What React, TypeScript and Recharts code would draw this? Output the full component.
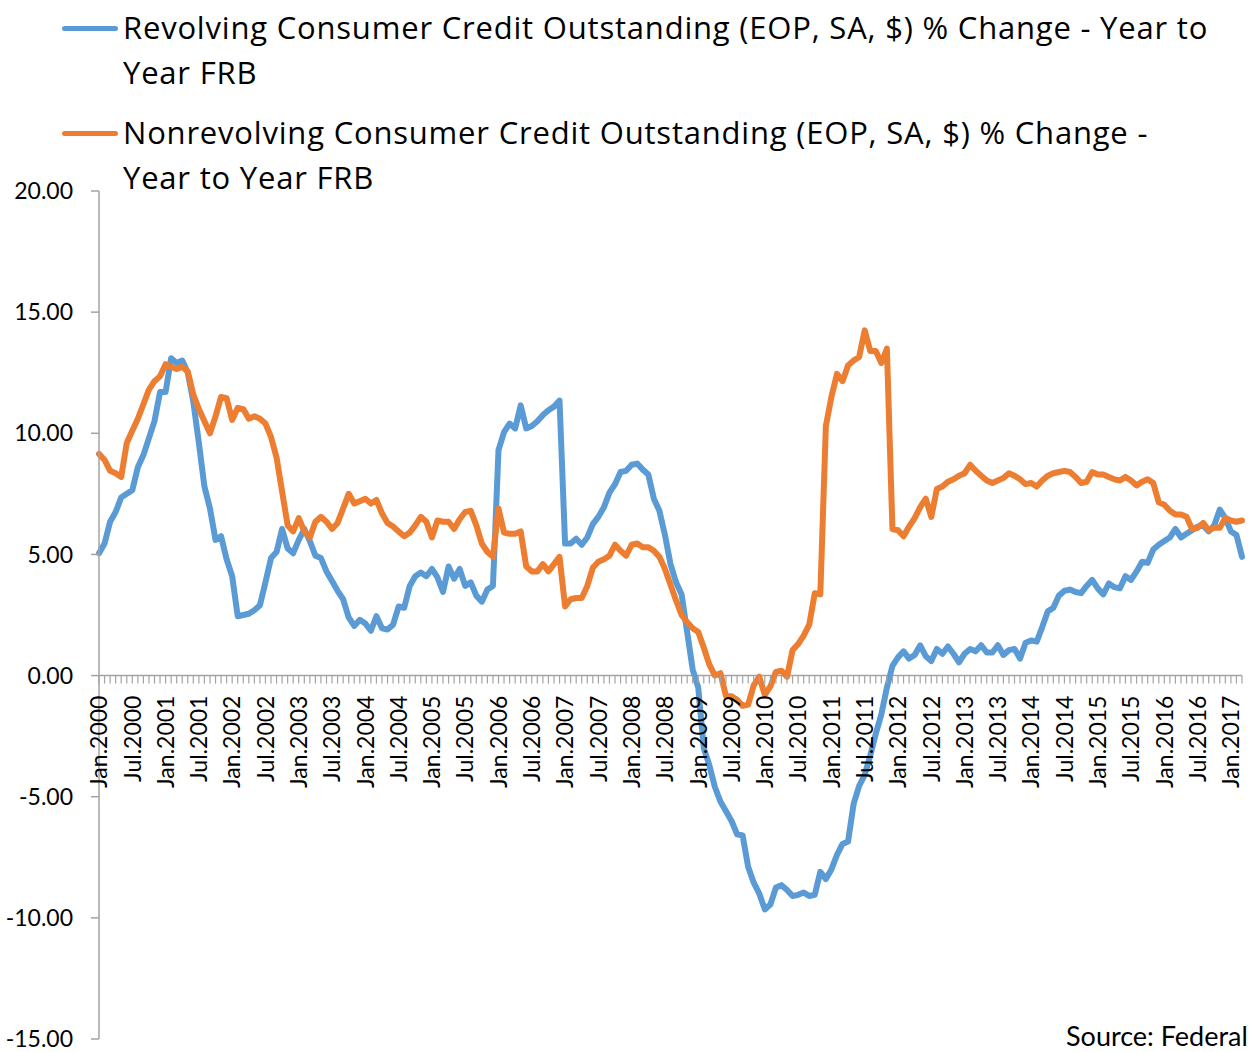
import React from 'react';
import { LineChart, Line, XAxis, YAxis, ReferenceLine, Legend } from 'recharts';

// ---------- data ----------
const MONTHS = ['Jan', 'Feb', 'Mar', 'Apr', 'May', 'Jun', 'Jul', 'Aug', 'Sep', 'Oct', 'Nov', 'Dec'];
const START_YEAR = 2000;

// Revolving consumer credit, % change year to year (Jan 2000 - Mar 2017)
const REVOLVING = [
  5.05, 5.45, 6.35, 6.75, 7.35, 7.5, 7.65, 8.6, 9.1, 9.8, 10.5, 11.7,
  11.7, 13.1, 12.9, 13.0, 12.5, 11.3, 9.6, 7.8, 6.9, 5.6, 5.75, 4.8,
  4.1, 2.45, 2.5, 2.55, 2.7, 2.9, 3.85, 4.85, 5.1, 6.05, 5.25, 5.05,
  5.6, 6.05, 5.55, 4.95, 4.85, 4.3, 3.9, 3.5, 3.15, 2.4, 2.05, 2.3,
  2.15, 1.85, 2.45, 1.95, 1.9, 2.1, 2.85, 2.8, 3.7, 4.1, 4.25, 4.1,
  4.4, 4.05, 3.45, 4.5, 4.0, 4.4, 3.7, 3.85, 3.3, 3.05, 3.55, 3.7,
  9.3, 10.05, 10.4, 10.2, 11.15, 10.2, 10.3, 10.5, 10.75, 10.95, 11.1, 11.35,
  5.45, 5.45, 5.65, 5.4, 5.7, 6.25, 6.55, 6.95, 7.55, 7.9, 8.4, 8.45,
  8.7, 8.75, 8.5, 8.3, 7.3, 6.8, 5.8, 4.6, 3.85, 3.35, 1.8, 0.25,
  -0.5, -3.0, -3.7, -4.6, -5.2, -5.6, -6.0, -6.55, -6.6, -7.9, -8.55, -9.0,
  -9.65, -9.45, -8.75, -8.65, -8.85, -9.1, -9.05, -8.95, -9.1, -9.05, -8.1, -8.4,
  -8.0, -7.4, -6.95, -6.85, -5.3, -4.55, -4.1, -3.3, -2.4, -1.6, -0.5, 0.4,
  0.75, 1.0, 0.7, 0.85, 1.25, 0.8, 0.6, 1.1, 0.9, 1.2, 0.9, 0.55,
  0.9, 1.1, 1.0, 1.25, 0.95, 0.95, 1.25, 0.85, 1.05, 1.1, 0.7, 1.35,
  1.45, 1.4, 2.0, 2.65, 2.8, 3.3, 3.5, 3.55, 3.45, 3.4, 3.7, 3.95,
  3.6, 3.35, 3.8, 3.65, 3.6, 4.1, 3.95, 4.3, 4.7, 4.65, 5.2, 5.4,
  5.55, 5.7, 6.05, 5.7, 5.85, 6.0, 6.15, 6.2, 5.95, 6.2, 6.85, 6.5,
  5.95, 5.8, 4.9,
];

// Nonrevolving consumer credit, % change year to year (Jan 2000 - Mar 2017)
const NONREVOLVING = [
  9.15, 8.9, 8.45, 8.35, 8.2, 9.6, 10.1, 10.6, 11.2, 11.8, 12.15, 12.35,
  12.85, 12.75, 12.65, 12.75, 12.55, 11.6, 11.0, 10.5, 10.0, 10.7, 11.5, 11.45,
  10.55, 11.05, 11.0, 10.6, 10.7, 10.6, 10.4, 9.85, 9.0, 7.6, 6.2, 5.95,
  6.5, 5.95, 5.7, 6.35, 6.55, 6.35, 6.05, 6.3, 6.9, 7.5, 7.1, 7.2,
  7.3, 7.1, 7.25, 6.7, 6.3, 6.15, 5.95, 5.75, 5.9, 6.2, 6.55, 6.35,
  5.7, 6.4, 6.35, 6.35, 6.05, 6.45, 6.75, 6.8, 6.2, 5.45, 5.1, 4.9,
  6.9, 5.9, 5.85, 5.85, 5.95, 4.5, 4.3, 4.3, 4.6, 4.3, 4.6, 4.9,
  2.85, 3.15, 3.2, 3.2, 3.7, 4.45, 4.7, 4.8, 4.95, 5.4, 5.15, 4.95,
  5.4, 5.45, 5.3, 5.3, 5.15, 4.9, 4.4, 3.75, 3.1, 2.5, 2.2, 1.95,
  1.8, 1.15, 0.45, 0.0, 0.1, -0.85, -0.85, -1.0, -1.25, -1.2, -0.4, -0.05,
  -0.8, -0.45, 0.15, 0.2, -0.05, 1.05, 1.3, 1.65, 2.1, 3.4, 3.35, 10.3,
  11.5, 12.45, 12.15, 12.8, 13.0, 13.15, 14.25, 13.4, 13.4, 12.9, 13.5, 6.05,
  6.0, 5.75, 6.15, 6.5, 6.95, 7.3, 6.55, 7.7, 7.8, 8.0, 8.1, 8.25,
  8.35, 8.7, 8.45, 8.25, 8.05, 7.95, 8.05, 8.15, 8.35, 8.25, 8.1, 7.9,
  7.95, 7.8, 8.05, 8.25, 8.35, 8.4, 8.45, 8.4, 8.2, 7.95, 8.0, 8.4,
  8.3, 8.3, 8.2, 8.1, 8.05, 8.2, 8.05, 7.85, 8.0, 8.1, 7.95, 7.15,
  7.05, 6.8, 6.65, 6.65, 6.55, 6.05, 6.1, 6.3, 6.0, 6.1, 6.1, 6.5,
  6.4, 6.35, 6.4,
];

const CATEGORIES = REVOLVING.map(
  (_, i) => `${MONTHS[i % 12]}.${START_YEAR + Math.floor(i / 12)}`
);

const Y_TICKS = [-15, -10, -5, 0, 5, 10, 15, 20];
const Y_DOMAIN: [number, number] = [-15, 20];
const LABEL_EVERY = 6;

const REV_LEGEND = ['Revolving Consumer Credit Outstanding (EOP, SA, $) % Change - Year to', 'Year FRB'];
const NONREV_LEGEND = ['Nonrevolving Consumer Credit Outstanding (EOP, SA, $) % Change -', 'Year to Year FRB'];
const SOURCE_TEXT = 'Source: Federal';

const SERIES = [
  { key: 'rev', lines: REV_LEGEND, color: '#5B9BD5' },
  { key: 'nonrev', lines: NONREV_LEGEND, color: '#ED7D31' },
];

const data = CATEGORIES.map((label, i) => ({
  label,
  rev: REVOLVING[i],
  nonrev: NONREVOLVING[i],
}));

// ---------- layout ----------
const W = 1255;
const H = 1052;
const MARGIN = { top: 191, right: 13, bottom: 12, left: -1 };
const X_AXIS_H = 1;
const Y_AXIS_W = 100;
const PLOT_H = H - MARGIN.top - MARGIN.bottom - X_AXIS_H;
const ZERO_Y = MARGIN.top + (PLOT_H * (Y_DOMAIN[1] - 0)) / (Y_DOMAIN[1] - Y_DOMAIN[0]);
const AXIS_COLOR = '#a3a3a3';
const FONT = 'Lato, "Open Sans", sans-serif';
const LEGEND_FONT = '"Open Sans", Lato, sans-serif';
const LINE_W = 6;

const XTick = (props: any) => {
  const { x, payload } = props;
  const index = props.index ?? payload?.index ?? 0;
  const ly = ZERO_Y + 20;
  return (
    <g>
      <line x1={x} y1={ZERO_Y} x2={x} y2={ZERO_Y + 8} stroke={AXIS_COLOR} strokeWidth={1.2} />
      {index % LABEL_EVERY === 0 && (
        <text
          x={x}
          y={ly}
          transform={`rotate(-90 ${x} ${ly})`}
          textAnchor="end"
          dy="0.36em"
          fontFamily={FONT}
          fontSize={23}
          fill="#000"
        >
          {payload.value}
        </text>
      )}
    </g>
  );
};

const LegendBox = () => (
  <div
    style={{
      position: 'relative',
      width: W,
      height: 200,
      fontFamily: LEGEND_FONT,
      fontSize: 31,
      letterSpacing: '0.8px',
      color: '#000',
    }}
  >
    {SERIES.map((s, k) => (
      <div key={s.key} style={{ position: 'absolute', left: 0, top: k * 105, width: W }}>
        <div
          style={{
            position: 'absolute',
            left: 62,
            top: 26,
            width: 56,
            height: 5,
            borderRadius: 2.5,
            background: s.color,
          }}
        />
        <div style={{ position: 'absolute', left: 123, top: 5, lineHeight: '45px', whiteSpace: 'nowrap' }}>
          {s.lines.map((l, j) => (
            <div key={j}>{l}</div>
          ))}
        </div>
      </div>
    ))}
  </div>
);

export default function App() {
  return (
    <div
      style={{
        position: 'absolute',
        left: 0,
        top: 0,
        width: W,
        height: H,
        overflow: 'hidden',
        background: '#fff',
        fontFamily: FONT,
      }}
    >
      <LineChart width={W} height={H} data={data} margin={MARGIN}>
        <XAxis
          dataKey="label"
          interval={0}
          height={X_AXIS_H}
          axisLine={false}
          tickLine={false}
          tick={<XTick />}
        />
        <YAxis
          type="number"
          domain={Y_DOMAIN}
          ticks={Y_TICKS}
          interval={0}
          width={Y_AXIS_W}
          tickSize={8}
          tickMargin={18}
          tickFormatter={(v: number) => v.toFixed(2)}
          axisLine={{ stroke: AXIS_COLOR, strokeWidth: 1.5 }}
          tickLine={{ stroke: AXIS_COLOR, strokeWidth: 1.5 }}
          tick={{ fontFamily: FONT, fontSize: 23, fill: '#000' }}
          allowDataOverflow
        />
        <ReferenceLine y={0} stroke={AXIS_COLOR} strokeWidth={1.5} />
        <Legend
          layout="horizontal"
          verticalAlign="middle"
          align="center"
          wrapperStyle={{ top: 0, left: 0, width: W }}
          content={() => <LegendBox />}
        />
        <Line
          type="linear"
          dataKey="rev"
          name={REV_LEGEND.join(' ')}
          stroke={SERIES[0].color}
          strokeWidth={LINE_W}
          strokeLinejoin="round"
          strokeLinecap="round"
          dot={false}
          activeDot={false}
          isAnimationActive={false}
        />
        <Line
          type="linear"
          dataKey="nonrev"
          name={NONREV_LEGEND.join(' ')}
          stroke={SERIES[1].color}
          strokeWidth={LINE_W}
          strokeLinejoin="round"
          strokeLinecap="round"
          dot={false}
          activeDot={false}
          isAnimationActive={false}
        />
      </LineChart>
      <div
        style={{
          position: 'absolute',
          left: 1066,
          top: 1022,
          fontSize: 27,
          lineHeight: '28px',
          whiteSpace: 'nowrap',
          color: '#000',
          fontFamily: FONT,
        }}
      >
        {SOURCE_TEXT}
      </div>
    </div>
  );
}
